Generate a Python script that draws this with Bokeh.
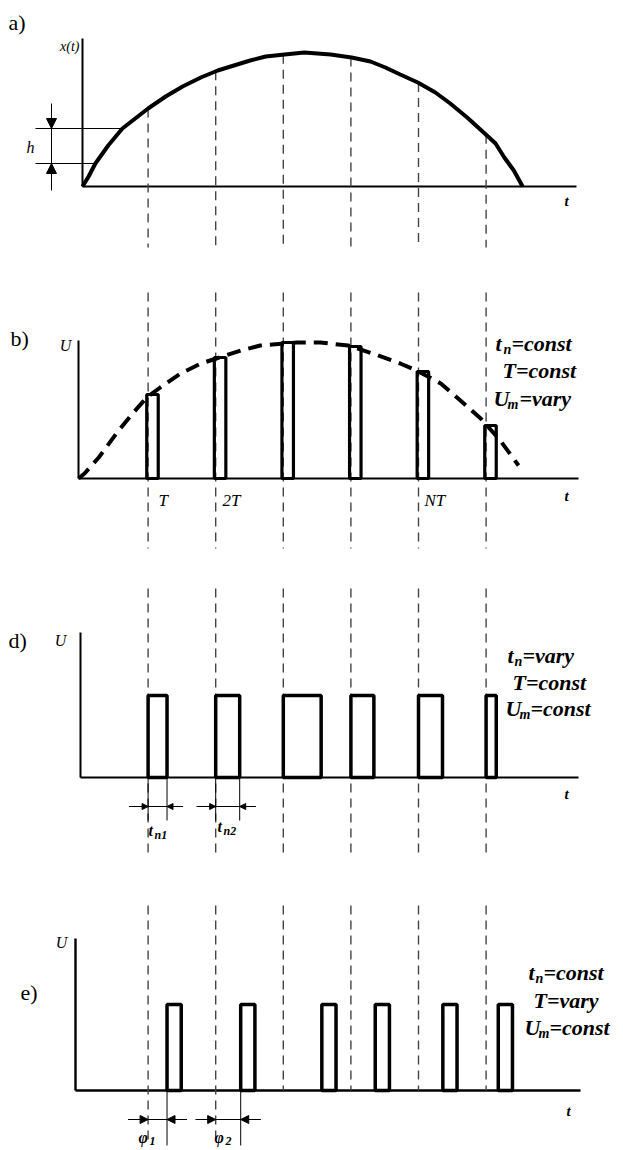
import numpy as np
from bokeh.plotting import figure
from bokeh.layouts import column
from bokeh.models import Range1d, Arrow, NormalHead
from bokeh.core.properties import value
from bokeh.embed import file_html
from bokeh.resources import INLINE

# ---------------- data (t in units of the period T) ----------------
periods = [1, 2, 3, 4, 5, 6]                      # sampling instants T, 2T, ... NT

# a) continuous message x(t)
sig_t = [0.03, 0.12, 0.22, 0.41, 0.62, 1.00, 1.26, 1.51, 1.78, 2.03, 2.51, 2.74, 3.02, 3.31,
         3.70, 4.01, 4.29, 4.51, 4.73, 4.99, 5.25, 5.47, 5.72, 5.98, 6.14, 6.27, 6.41, 6.54]
sig_x = [0, 10, 23, 41, 58, 78, 90, 100, 109, 116, 126, 130, 132, 134,
         132, 129, 125, 119, 112, 104, 94, 83, 69, 53, 43, 29, 16, 0]
h_levels = [23, 58]                                # quantisation step h

# b) PAM : envelope and pulse amplitudes
env_t = [-0.03, 0.06, 0.27, 0.53, 0.77, 0.98, 1.18, 1.48, 1.78, 2.01, 2.37, 2.66, 3.20,
         3.55, 3.96, 4.32, 4.73, 4.97, 5.33, 5.62, 5.92, 6.21, 6.48]
env_u = [0, 5, 21, 45, 65, 81, 91, 105, 115, 120, 128, 133, 136,
         136, 133, 125, 115, 108, 95, 78, 60, 38, 13]
pam_amp = [84, 121, 136, 132, 107, 53]
pam_width = 0.17

# d) PWM : widths vary, amplitude constant
pwm_width = [0.28, 0.355, 0.56, 0.34, 0.355, 0.15]
pwm_amp = 82

# e) PPM : positions vary
ppm_shift = [0.28, 0.37, 0.57, 0.36, 0.36, 0.18]
ppm_width = 0.21
ppm_amp = 86

panel_labels = ["a)", "b)", "d)", "e)"]
b_ticks = ["T", "2T", "NT"]
b_tick_idx = [0, 1, 4]

# ---------------- layout helpers ----------------
PX0, PXU = 80.0, 67.6
SERIF = value("Liberation Serif")
DASH_COL = "#444444"


def tx(px):
    return (px - PX0) / PXU


def make_panel(P0, P1, B):
    p = figure(width=623, height=P1 - P0,
               x_range=Range1d(tx(0), tx(623)), y_range=Range1d(B - P1, B - P0),
               output_backend="svg", toolbar_location=None, min_border=0,
               x_axis_type=None, y_axis_type=None)
    p.grid.visible = False
    p.outline_line_color = None
    p.background_fill_color = "white"
    p.border_fill_color = "white"
    return p, (lambda py: B - py)


def txt(p, V, px, py, s, size, style="normal", align="left"):
    p.text(x=[tx(px)], y=[V(py)], text=[s], text_font=SERIF,
           text_font_size=f"{size}px", text_font_style=style,
           text_align=align, text_baseline="middle", text_color="black")


def axes(p, V, ax_px, top_py, end_px, lw=2):
    p.line([tx(ax_px), tx(ax_px)], [V(top_py), 0], line_color="black", line_width=lw)
    p.line([tx(ax_px), tx(end_px)], [0, 0], line_color="black", line_width=lw)


def vdash(p, x, y0, y1):
    p.segment(x0=x, y0=y0, x1=x, y1=y1, line_color=DASH_COL, line_width=1.4,
              line_dash="9 6")


def head(p, xs, ys, xe, ye, size=8):
    p.add_layout(Arrow(end=NormalHead(size=size, fill_color="black", line_color="black",
                                      line_width=1),
                       x_start=xs, y_start=ys, x_end=xe, y_end=ye,
                       line_color="black", line_width=1))


def rich(p, V, pieces):
    for px, py, s, size in pieces:
        txt(p, V, px, py, s, size, "bold italic")


# ---------------- a) ----------------
pa, Va = make_panel(0, 265, 186)
txt(pa, Va, 8, 22, panel_labels[0], 22)
axes(pa, Va, 82, 38, 576)
txt(pa, Va, 79, 46, "x(t)", 14, "italic", "right")
txt(pa, Va, 566, 200, "t", 15, "bold italic", "center")
curve_at = np.interp(periods, sig_t, sig_x)
vdash(pa, periods, list(curve_at), [Va(247)] * len(periods))
pa.line(sig_t, sig_x, line_color="black", line_width=4)
k = 8
for lev in h_levels:
    xc = float(np.interp(lev, sig_x[:k], sig_t[:k]))
    pa.line([tx(35), xc], [lev, lev], line_color="black", line_width=1)
pa.line([tx(51), tx(51)], [Va(103), Va(190)], line_color="black", line_width=1)
head(pa, tx(51), Va(108), tx(51), h_levels[1], 10)
head(pa, tx(51), Va(185), tx(51), h_levels[0], 10)
txt(pa, Va, 30, 147, "h", 16, "italic", "center")

# ---------------- b) ----------------
pb, Vb = make_panel(265, 560, 478)
txt(pb, Vb, 10, 338, panel_labels[1], 22)
axes(pb, Vb, 78, 340, 578)
txt(pb, Vb, 65, 345, "U", 16, "italic", "center")
vdash(pb, periods, [Vb(292)] * 6, [Vb(548)] * 6)
pb.line(env_t, env_u, line_color="black", line_width=4, line_dash="14 8")
left_b = [t - 0.02 for t in periods]
pb.quad(left=left_b, right=[l + pam_width for l in left_b], bottom=0, top=pam_amp,
        fill_alpha=0, line_color="black", line_width=3.2)
for lab, i, pxl in zip(b_ticks, b_tick_idx, [158, 222, 424]):
    txt(pb, Vb, pxl, 500, lab, 17, "italic")
txt(pb, Vb, 566, 495, "t", 15, "bold italic", "center")
rich(pb, Vb, [(495, 343, "t", 22), (503, 349, "n", 14), (511, 343, "=const", 22),
              (502, 370, "T=const", 22),
              (493, 398, "U", 22), (507, 404, "m", 14), (519, 398, "=vary", 22)])

# ---------------- d) ----------------
pd_, Vd = make_panel(560, 880, 777)
txt(pd_, Vd, 8, 640, panel_labels[2], 22)
axes(pd_, Vd, 80, 632, 578)
txt(pd_, Vd, 60, 640, "U", 16, "italic", "center")
vdash(pd_, periods, [Vd(588)] * 6, [Vd(853)] * 6)
pd_.quad(left=periods, right=[t + w for t, w in zip(periods, pwm_width)], bottom=0,
         top=pwm_amp, fill_alpha=0, line_color="black", line_width=3.5)
txt(pd_, Vd, 566, 793, "t", 15, "bold italic", "center")
for i in range(2):
    l, r = periods[i], periods[i] + pwm_width[i]
    for xx in (l, r):
        pd_.line([xx, xx], [0, Vd(820)], line_color="black", line_width=1)
    yy = Vd(806)
    pd_.line([l - 19 / PXU, r + 16 / PXU], [yy, yy], line_color="black", line_width=1)
    head(pd_, l - 19 / PXU, yy, l, yy, 6)
    head(pd_, r + 16 / PXU, yy, r, yy, 6)
rich(pd_, Vd, [(148, 830, "t", 16), (154, 834, "n1", 12),
               (217, 826, "t", 16), (223, 830, "n2", 12)])
rich(pd_, Vd, [(507, 655, "t", 22), (514, 661, "n", 14), (522, 655, "=vary", 22),
               (512, 682, "T=const", 22),
               (505, 708, "U", 22), (519, 714, "m", 14), (530, 708, "=const", 22)])

# ---------------- e) ----------------
pe, Ve = make_panel(880, 1150, 1090)
txt(pe, Ve, 20, 992, panel_labels[3], 22)
axes(pe, Ve, 75, 938, 580, 2.4)
txt(pe, Ve, 61, 942, "U", 16, "italic", "center")
ends = [Ve(1145) if i < 2 else 0 for i in range(6)]
vdash(pe, periods, [Ve(905)] * 6, ends)
left_e = [t + s for t, s in zip(periods, ppm_shift)]
pe.quad(left=left_e, right=[l + ppm_width for l in left_e], bottom=0, top=ppm_amp,
        fill_alpha=0, line_color="black", line_width=3.5)
txt(pe, Ve, 568, 1110, "t", 15, "bold italic", "center")
for i in range(2):
    l, r = periods[i], left_e[i]
    pe.line([r, r], [0, Ve(1145)], line_color="black", line_width=1)
    yy = Ve(1119)
    pe.line([l - 20 / PXU, r + 20 / PXU], [yy, yy], line_color="black", line_width=1)
    head(pe, l - 20 / PXU, yy, l, yy, 8)
    head(pe, r + 20 / PXU, yy, r, yy, 8)
rich(pe, Ve, [(138, 1137, "φ", 16), (149, 1140, "1", 12),
              (214, 1137, "φ", 16), (225, 1140, "2", 12)])
rich(pe, Ve, [(528, 972, "t", 22), (535, 978, "n", 14), (543, 972, "=const", 22),
              (533, 1000, "T=vary", 22),
              (524, 1027, "U", 22), (538, 1033, "m", 14), (549, 1027, "=const", 22)])

layout = column(pa, pb, pd_, pe, spacing=0)
open("out.html", "w").write(file_html(layout, INLINE))
